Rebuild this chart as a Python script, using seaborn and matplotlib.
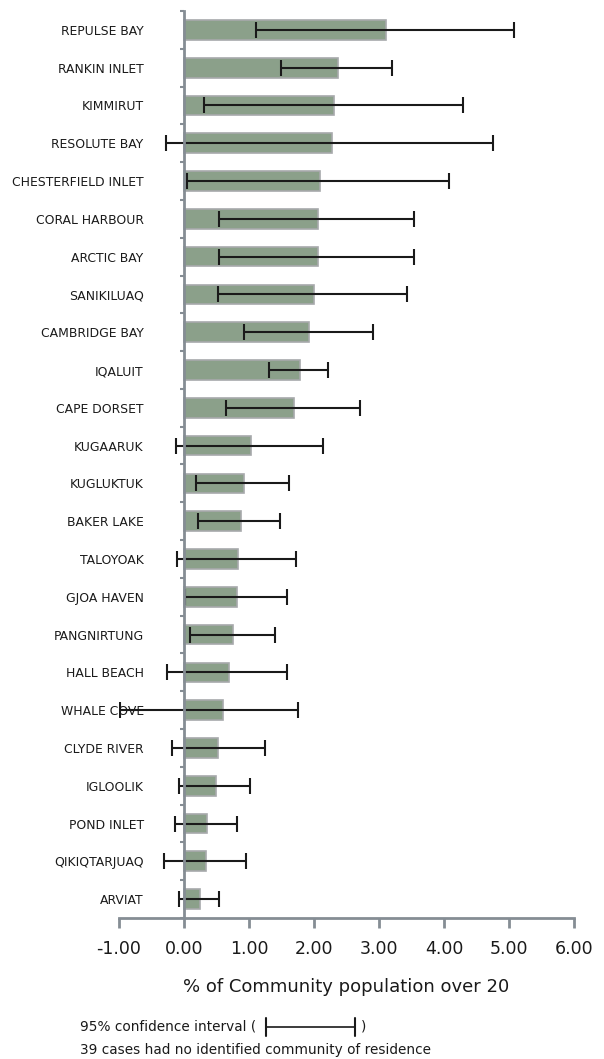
import numpy as np
import pandas as pd
import matplotlib
matplotlib.use("Agg")
import matplotlib.pyplot as plt
from matplotlib.lines import Line2D
from matplotlib.ticker import FixedLocator
import seaborn as sns

#data
communities = ["REPULSE BAY", "RANKIN INLET", "KIMMIRUT", "RESOLUTE BAY",
               "CHESTERFIELD INLET", "CORAL HARBOUR", "ARCTIC BAY", "SANIKILUAQ",
               "CAMBRIDGE BAY", "IQALUIT", "CAPE DORSET", "KUGAARUK", "KUGLUKTUK",
               "BAKER LAKE", "TALOYOAK", "GJOA HAVEN", "PANGNIRTUNG", "HALL BEACH",
               "WHALE COVE", "CLYDE RIVER", "IGLOOLIK", "POND INLET",
               "QIKIQTARJUAQ", "ARVIAT"]
rate = [3.10, 2.37, 2.31, 2.27, 2.09, 2.06, 2.06, 2.00, 1.93, 1.78, 1.69, 1.03,
        0.92, 0.87, 0.83, 0.81, 0.76, 0.69, 0.60, 0.53, 0.49, 0.35, 0.34, 0.24]
ci_low = [1.10, 1.49, 0.30, -0.27, 0.05, 0.54, 0.54, 0.53, 0.92, 1.31, 0.65, -0.13,
          0.18, 0.22, -0.11, 0.02, 0.09, -0.26, -0.98, -0.19, -0.07, -0.14, -0.31, -0.08]
ci_high = [5.07, 3.20, 4.29, 4.76, 4.08, 3.54, 3.54, 3.43, 2.90, 2.21, 2.70, 2.14,
           1.62, 1.48, 1.73, 1.58, 1.40, 1.59, 1.75, 1.25, 1.01, 0.82, 0.95, 0.54]
xticks = [-1, 0, 1, 2, 3, 4, 5, 6]

df = pd.DataFrame({"community": communities, "rate": rate,
                   "low": ci_low, "high": ci_high})

sns.set_theme(style="white")
plt.rcParams['font.family'] = ['DejaVu Sans']

W, H = 604, 1059
fig = plt.figure(figsize=(W / 100, H / 100), dpi=100)
ax = fig.add_axes([119 / W, 1 - 918 / H, 455 / W, 907 / H])

sns.barplot(data=df, x="rate", y="community", orient="h", color="#8ba08a",
            saturation=1, edgecolor="#a7a9ab", linewidth=1.2, width=0.52, ax=ax)

ypos = np.arange(len(df))
ax.errorbar(df["rate"], ypos,
            xerr=[df["rate"] - df["low"], df["high"] - df["rate"]],
            fmt="none", ecolor="#1a1a1a", elinewidth=1.5, capsize=6, capthick=1.5)

ax.set_xlim(-1, 6)
ax.set_ylim(len(df) - 0.5, -0.5)
ax.set_xticks(xticks)
ax.set_xticklabels([f"{v:.2f}" for v in xticks], fontsize=12.5, color="#1a1a1a")
ax.set_ylabel("")
ax.set_xlabel("% of Community population over 20", fontsize=13,
              color="#1a1a1a", labelpad=14)

#axis styling, vertical axis sits on zero
for side in ["top", "right"]:
    ax.spines[side].set_visible(False)
ax.spines["left"].set_position(("data", 0))
ax.spines["left"].set_color("#858d94")
ax.spines["left"].set_linewidth(2)
ax.spines["bottom"].set_color("#858d94")
ax.spines["bottom"].set_linewidth(2)

ax.tick_params(axis="x", which="major", direction="out", length=7, width=2,
               color="#858d94", pad=9, bottom=True)
ax.tick_params(axis="y", which="major", length=0, pad=29, labelsize=8.9,
               labelcolor="#1a1a1a")
ax.yaxis.set_minor_locator(FixedLocator(np.arange(len(df) + 1) - 0.5))
ax.tick_params(axis="y", which="minor", direction="out", length=3, width=1.5,
               color="#858d94", left=True)

#notes under the chart
y_ci = 1 - 1027 / H
fig.text(80 / W, y_ci, "95% confidence interval (", fontsize=9.8,
         color="#1a1a1a", va="center")
fig.add_artist(Line2D([266 / W, 355 / W], [y_ci] * 2, color="#1a1a1a", lw=1.2))
for xp in [266, 355]:
    fig.add_artist(Line2D([xp / W] * 2, [y_ci + 9 / H, y_ci - 9 / H],
                          color="#1a1a1a", lw=1.5))
fig.text(361 / W, y_ci, ")", fontsize=9.8, color="#1a1a1a", va="center")
fig.text(80 / W, 1 - 1050 / H, "39 cases had no identified community of residence",
         fontsize=9.8, color="#1a1a1a", va="center")

fig.savefig("out.png", dpi=100)
